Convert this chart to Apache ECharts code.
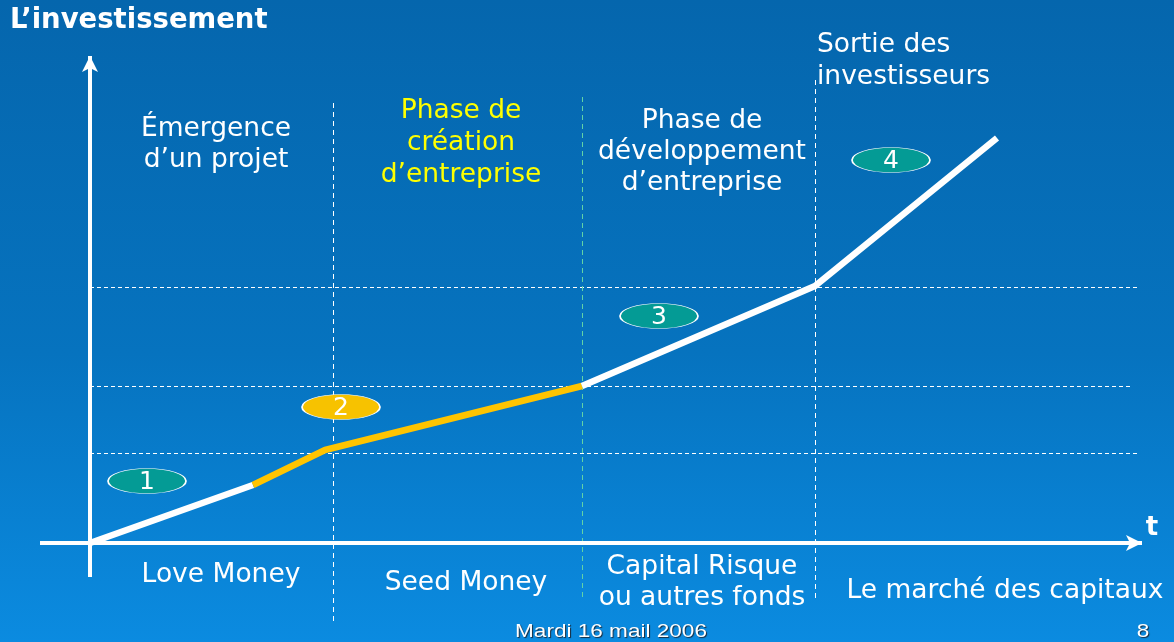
<!DOCTYPE html>
<html>
<head>
<meta charset="utf-8">
<script src="https://cdn.jsdelivr.net/npm/echarts@6/dist/echarts.min.js"></script>
<style>html,body{margin:0;padding:0;}#c{width:1174px;height:642px;}</style>
</head>
<body>
<div id="c"></div>
<script>
// ---- data (chart units: origin at the axes crossing) ----
const curveWhiteA = [[0, 0], [163, 58]];
const curveYellow = [[163, 58], [235, 93], [492, 157]];
const curveWhiteB = [[492, 157], [725, 257], [907, 405]];
const phaseBounds = [243, 492, 725];
const phaseTops = [440, 446, 463];
const phaseBottoms = [-82, -57, -57];
const levels = [90, 157, 256];
const levelEnds = [1050, 1040, 1050];
const stageLabels = ['1', '2', '3', '4'];
const stageX = [57, 251, 569, 801];
const stageY = [62, 136, 227, 383];
const phaseTitles = ['Émergence\nd’un projet', 'Phase de\ncréation\nd’entreprise', 'Phase de\ndéveloppement\nd’entreprise', 'Sortie des\ninvestisseurs'];
const fundingLabels = ['Love Money', 'Seed Money', 'Capital Risque\nou autres fonds', 'Le marché des capitaux'];

const chart = echarts.init(document.getElementById('c'));
const F = '"DejaVu Sans", sans-serif';
const teal = '#049B95', yellow = '#FFC400';

function txt(x, y, text, opts, extra) {
  opts = opts || {};
  return Object.assign({
    type: 'text', x: x, y: y, z: 100,
    style: Object.assign({
      text: text, fill: '#fff', font: '26.5px ' + F,
      align: 'center', verticalAlign: 'middle', lineHeight: 31
    }, opts)
  }, extra || {});
}
const footStyle = { font: '18.5px "Liberation Sans", sans-serif', textShadowColor: '#1b2b3b', textShadowOffsetX: 1, textShadowOffsetY: 1, textShadowBlur: 1 };

const option = {
  animation: false,
  backgroundColor: {
    type: 'linear', x: 0, y: 0, x2: 0, y2: 1,
    colorStops: [{ offset: 0, color: '#0566AD' }, { offset: 0.55, color: '#0673BF' }, { offset: 1, color: '#0B8BE0' }]
  },
  grid: { left: 0, right: 0, top: 0, bottom: 0 },
  xAxis: { type: 'value', min: -90, max: 1084, show: false },
  yAxis: { type: 'value', min: -99, max: 543, show: false },
  series: [
    {
      type: 'line', data: [], silent: true, z: 1,
      markLine: {
        silent: true, symbol: 'none', animation: false,
        label: { show: false },
        data: levels.map((v, i) => [
          { coord: [0, v], lineStyle: { color: '#fff', width: 1, type: [4, 3] } },
          { coord: [levelEnds[i], v] }
        ]).concat(phaseBounds.map((v, i) => [
          { coord: [v, phaseTops[i]], lineStyle: { color: i === 1 ? '#62D3A6' : '#fff', width: 1, type: [5, 4] } },
          { coord: [v, phaseBottoms[i]] }
        ]))
      }
    },
    {
      type: 'line', data: [], silent: true, z: 2,
      markLine: {
        silent: true, animation: false,
        label: { show: false },
        symbol: ['none', 'arrow'], symbolSize: [12, 16],
        lineStyle: { color: '#fff', width: 4, type: 'solid' },
        data: [
          [{ coord: [-50, 0] }, { coord: [1052, 0] }],
          [{ coord: [0, -34] }, { coord: [0, 487] }]
        ]
      }
    },
    { type: 'line', data: curveWhiteA, showSymbol: false, z: 5, lineStyle: { color: '#fff', width: 6.5, cap: 'butt' } },
    { type: 'line', data: curveYellow, showSymbol: false, z: 5, lineStyle: { color: yellow, width: 6.5, cap: 'butt' } },
    { type: 'line', data: curveWhiteB, showSymbol: false, z: 5, lineStyle: { color: '#fff', width: 6.5, cap: 'butt' } },
    {
      type: 'line', data: [], z: 6, silent: true,
      markPoint: {
        silent: true, animation: false,
        symbol: 'circle', symbolSize: [78, 25],
        data: stageLabels.map((s, i) => ({
          coord: [stageX[i], stageY[i]], value: s,
          itemStyle: { color: i === 1 ? '#F7C200' : teal, borderColor: '#fff', borderWidth: 1 }
        })),
        label: { show: true, color: '#fff', fontSize: 25, fontFamily: F, offset: [0, 1], formatter: p => p.data.value }
      }
    }
  ],
  graphic: [
    txt(10, 21, 'L’investissement', { align: 'left', font: 'bold 27.5px ' + F }),
    txt(1152, 528, 't', { font: 'bold 26px ' + F }),
    txt(216, 144.5, phaseTitles[0]),
    txt(461, 143, phaseTitles[1], { fill: '#FFFF00', lineHeight: 32 }),
    txt(702, 152, phaseTitles[2]),
    txt(817, 61, phaseTitles[3], { align: 'left', lineHeight: 32 }),
    txt(221, 575, fundingLabels[0]),
    txt(466, 583, fundingLabels[1]),
    txt(702, 582.5, fundingLabels[2]),
    txt(1005, 591, fundingLabels[3]),
    txt(611, 632, 'Mardi 16 mail 2006', footStyle, { scaleX: 1.22 }),
    txt(1143, 632, '8', footStyle, { scaleX: 1.22 })
  ]
};
chart.setOption(option);
</script>
</body>
</html>
